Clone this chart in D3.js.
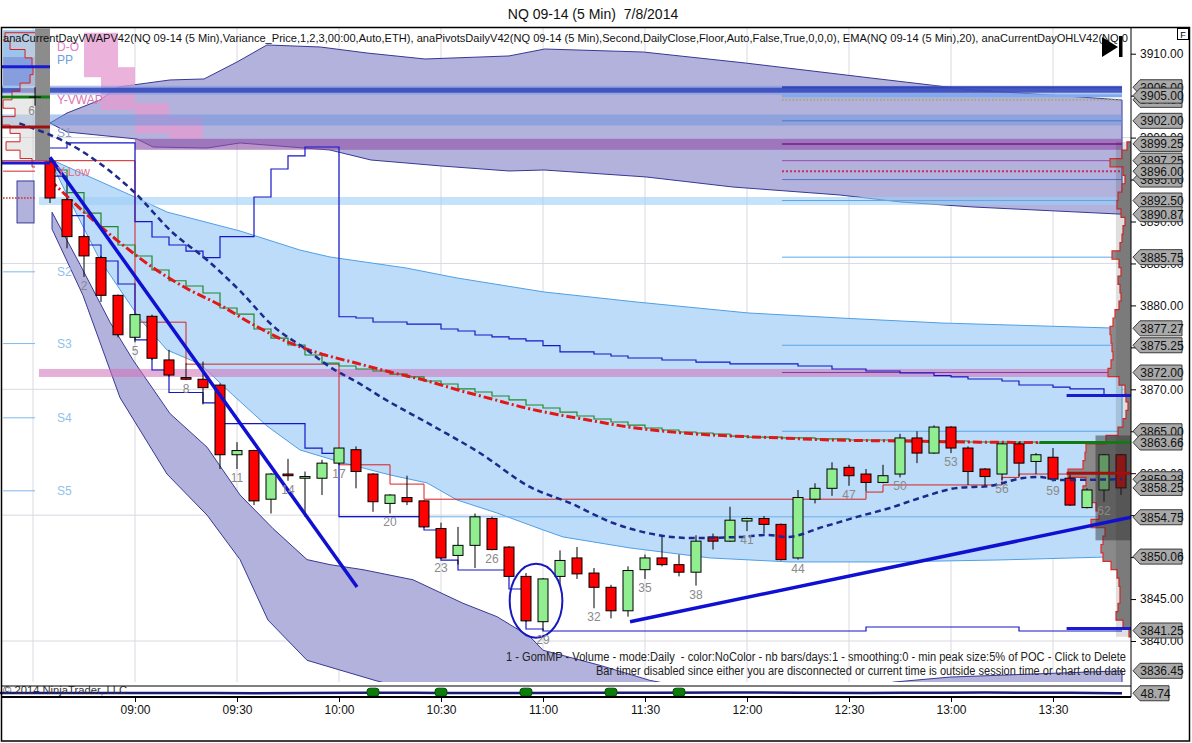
<!DOCTYPE html>
<html>
<head>
<meta charset="utf-8">
<script src="https://cdn.jsdelivr.net/npm/d3@7"></script>
<style>
  body { margin: 0; background: #fff; }
  svg { display: block; font-family: "Liberation Sans", Arial, sans-serif; }
  .pre { white-space: pre; }
</style>
</head>
<body>
<svg id="chart" width="1192" height="743"></svg>
<script>
// NQ 09-14 5 min bars, 7/8/2014 (bar 0 = 08:35)
const opens  = [3897.1,3892.6,3888.2,3885.7,3881.2,3876.2,3878.7,3873.5,3871.4,3871.2,3870.5,3862.2,3862.7,3856.9,3859.9,3859.4,3859.4,3861.2,3862.8,3859.9,3856.4,3857.1,3856.7,3853.4,3850.2,3851.4,3854.6,3851.2,3847.7,3842.3,3847.7,3849.9,3848.1,3846.4,3843.6,3848.5,3849.9,3849.1,3848.2,3852.4,3851.9,3854.3,3854.6,3853.9,3849.9,3856.9,3858.2,3860.7,3859.9,3858.9,3859.9,3864.2,3862.4,3865.5,3863.0,3860.5,3859.9,3863.5,3861.4,3861.9,3859.4,3855.9,3858.0,3862.2];
const highs  = [3897.5,3892.8,3888.4,3885.9,3881.3,3879.0,3878.9,3874.7,3873.1,3873.3,3870.7,3863.7,3862.8,3860.0,3861.7,3860.2,3861.6,3863.0,3863.2,3860.0,3857.5,3859.7,3856.8,3854.1,3853.6,3855.2,3854.8,3851.3,3848.1,3847.5,3850.8,3851.2,3848.7,3846.7,3848.9,3850.3,3852.6,3850.3,3852.6,3852.8,3856.0,3854.7,3854.9,3854.0,3858.0,3858.8,3861.3,3861.0,3860.5,3861.0,3864.7,3865.0,3865.7,3865.6,3863.2,3860.6,3863.6,3863.7,3862.4,3863.0,3860.0,3858.2,3862.3,3862.3];
const lows   = [3892.2,3886.8,3883.4,3880.4,3876.2,3875.6,3873.5,3871.5,3871.1,3868.2,3860.5,3860.5,3856.2,3855.2,3859.1,3854.8,3857.4,3861.0,3858.2,3855.4,3855.2,3856.2,3853.5,3849.8,3849.1,3848.7,3850.8,3847.6,3842.3,3841.25,3846.5,3847.4,3843.9,3842.7,3842.9,3847.4,3848.9,3847.7,3846.6,3850.9,3851.8,3853.1,3852.8,3849.6,3849.7,3856.4,3857.3,3858.5,3857.8,3858.8,3859.5,3861.2,3862.3,3862.4,3858.6,3858.5,3859.2,3859.6,3859.9,3859.0,3856.1,3855.8,3856.6,3857.4];
const closes = [3892.8,3888.2,3885.9,3881.2,3876.5,3878.9,3873.7,3871.7,3871.2,3870.2,3862.2,3862.7,3856.7,3859.9,3859.7,3859.6,3861.2,3863.0,3860.2,3856.6,3857.4,3856.6,3853.6,3849.9,3851.4,3854.8,3850.9,3847.7,3842.4,3847.4,3849.6,3848.0,3846.4,3843.6,3848.4,3849.9,3849.1,3848.2,3851.9,3851.9,3854.4,3854.6,3853.9,3849.7,3857.1,3858.2,3860.5,3859.7,3858.9,3859.7,3864.2,3862.4,3865.5,3863.0,3860.2,3859.6,3863.5,3861.2,3862.2,3859.3,3856.2,3858.0,3862.2,3858.25];

const timeLabels = ["09:00","09:30","10:00","10:30","11:00","11:30","12:00","12:30","13:00","13:30"];
const timeTickBars = [5,11,17,23,29,35,41,47,53,59];
const gridBars = [-1,5,11,17,23,29,35,41,47,53,59];
const priceTicks = [3840,3845,3850,3855,3860,3865,3870,3875,3880,3885,3890,3895,3900,3905,3910];
const priceGrid = [3840,3855,3870,3885,3900];

// VWAP deviation bands [bar, price]
const upperBandTop = [[0,3901.74],[1,3902.93],[2.94,3904.48],[4,3906.03],[7.06,3906.87],[9.06,3906.99],[11,3909.01],[12.76,3911.04],[15.9,3910.8],[18.65,3910.08],[22.06,3909.37],[27,3909.73],[29.1,3910.56],[34.9,3910.2],[40.9,3908.89],[48.3,3907.1],[54.3,3905.67],[60.6,3904.84],[63.06,3904.48]];
const upperBandBot = [[0,3901.74],[1,3900.67],[5.12,3899.83],[6.06,3898.88],[9.24,3898.76],[11.18,3899.36],[16.47,3898.52],[18.88,3897.33],[23.06,3896.61],[27,3896.02],[29.06,3896.14],[35.06,3895.31],[40.18,3894.11],[46.47,3893.16],[50.06,3892.32],[54.3,3891.73],[63.06,3890.87]];
const blueBandTop = [[0.12,3897.33],[5.12,3892.8],[6.88,3891.13],[11.18,3888.87],[14.7,3886.6],[16.47,3885.77],[20.94,3884.46],[23.94,3883.27],[29.06,3881.6],[34.47,3880.41],[41.06,3879.1],[46.47,3878.5],[52.47,3877.9],[63.06,3877.27]];
const blueBandBot = [[0.12,3896.85],[1,3893.16],[2.94,3885.41],[5.29,3878.38],[6.88,3874.69],[8.82,3873.02],[10.76,3869.32],[12.76,3865.63],[14.7,3862.77],[17.06,3861.34],[20,3859.79],[22.18,3858.84],[23.94,3856.81],[26.29,3855.26],[29,3853.24],[30.18,3852.4],[34.12,3851.09],[38.82,3849.9],[43.53,3849.42],[49.41,3849.42],[55.88,3849.66],[63.06,3850.06]];
const lowerBandTop = [[0.12,3891.1],[1.76,3884.9],[3.53,3878.0],[4.88,3873.5],[7.06,3867.1],[9.24,3863.1],[11.18,3857.4],[13.12,3853.4],[15.12,3849.7],[16.47,3849.1],[18.41,3848.5],[21.35,3847.3],[24.29,3844.5],[26.29,3842.9],[28.24,3840.5],[29,3838.9],[32.35,3837.1],[35.3,3835.3],[38.24,3834.2],[41.76,3833.9],[45.6,3832.5],[49.6,3835.1],[52.94,3835.7],[63.06,3836.45]];
const lowerBandBot = [[0.12,3889.1],[1.94,3881.2],[4.12,3869.0],[6.88,3859.9],[9.24,3855.0],[11.18,3849.7],[12.82,3842.5],[15.12,3837.7],[19.12,3835.3],[23.5,3833.0],[30,3830],[63.06,3828]];

const vwap = [[-1.8,3901.7],[1.76,3898.52],[4.88,3893.64],[7.24,3888.63],[9.24,3885.41],[11.18,3881.72],[13.12,3877.55],[15.12,3874.69],[16.47,3872.66],[18.24,3870.64],[19.47,3869.09],[22.53,3865.63],[25.29,3862.41],[28.24,3858.36],[30.59,3856.45],[33.12,3854.07],[35.12,3852.88],[37.65,3852.28],[40.59,3852.4],[42.18,3852.64],[43.35,3852.4],[45.47,3853.6],[47.47,3854.79],[49.41,3855.86],[51.35,3857.17],[53.35,3858.24],[55.29,3858.48],[57.24,3859.43],[58.24,3859.55],[59.24,3859.19],[63.06,3859.28]];
const ema20 = [[0,3894.95],[2,3891.13],[4,3887.67],[6,3884.58],[8,3882.07],[10,3880.04],[12,3877.66],[14,3875.63],[16,3874.2],[18,3873.13],[20,3872.06],[22,3871.1],[24,3869.92],[26,3868.84],[28,3867.77],[30,3866.94],[32,3866.22],[34,3865.51],[36,3865.03],[38,3864.67],[40,3864.44],[43,3864.2],[46,3863.96],[50,3863.84],[54,3863.72],[58,3863.66],[63.06,3863.66]];
const devVwap = [3896.14,3893.43,3891.01,3889.38,3887.2,3885.89,3884.22,3882.94,3882.31,3881.48,3879.69,3878.97,3877.19,3876.11,3875.28,3874.09,3873.13,3872.78,3872.42,3872.18,3871.82,3871.47,3870.99,3870.63,3870.04,3869.68,3869.2,3868.73,3868.13,3867.77,3867.29,3866.82,3866.46,3866.1,3865.74,3865.39,3865.15,3864.91,3864.79,3864.67,3864.43,3864.31,3864.31,3864.2,3864.2,3864.08,3864.08,3863.96,3863.96,3863.96,3863.96,3863.84,3863.84,3863.84,3863.72,3863.72,3863.72,3863.72,3863.6,3863.6,3863.6,3863.6,3863.6,3863.6];

// developing POC / value area [bar where value starts, price]
const pocSteps = [[-3,3897.25],[5,3878.0],[8,3873.0],[17,3861.0],[20,3858.7],[22,3856.9],[48,3857.75],[49,3858.6],[56,3859.5],[57,3859.9],[63.6,3859.9]];
const vahSteps = [[0,3898.76],[1,3899.36],[5,3889.98],[6,3888.15],[7,3887.2],[8,3886.48],[9,3885.69],[10,3888.19],[12,3892.92],[13,3896.26],[14,3897.81],[15,3898.88],[17,3878.65],[18,3878.5],[19,3878.02],[21,3877.78],[23,3877.19],[24,3876.95],[25,3876.47],[26,3876.24],[27,3876.0],[28,3875.76],[29,3875.2],[30,3874.45],[32,3874.21],[33,3873.97],[34,3873.73],[36,3873.49],[38,3873.25],[40,3873.02],[44,3872.78],[46,3872.42],[48,3872.18],[50,3871.94],[52,3871.62],[53,3871.47],[54,3871.23],[56,3870.99],[57,3870.51],[59,3870.27],[60,3870.04],[62,3869.32],[63.06,3869.32]];
const valSteps = [[0,3895.42],[1,3890.71],[2,3887.2],[3,3885.29],[4,3882.55],[5,3875.88],[6,3872.3],[7,3869.62],[9,3868.39],[10,3865.92],[15,3863.0],[16,3862.36],[17,3854.83],[22,3853.23],[23,3849.65],[24,3848.46],[27,3846.2],[28,3841.43],[29,3841.19],[48,3841.67],[57,3841.19],[63.06,3841.19]];

const trendLines = [[[0,3897.67],[18.06,3846.44]], [[34.12,3842.3],[63.6,3854.75]]];

// pivots
const pivotBandPrices = [3905.65, 3902.1, 3899.2, 3892.45, 3871.95];
const sessionLinePrices = [3906.0, 3905.0, 3904.5, 3902.0, 3899.25, 3897.25, 3896.0, 3895.0, 3892.5, 3885.75, 3875.25, 3872.0, 3865.0];
const pivotNames = ["D-O","PP","Y-VWAP","S1","Y-Low","S2","S3","S4","S5"];
const pivotNamePrices = [3910.8, 3909.25, 3904.6, 3900.55, 3895.9, 3884.0, 3875.5, 3866.6, 3857.9];
const leftLinePrices = [3884.0, 3875.45, 3866.6, 3857.9];
const prevDayLevels = [3908.45, 3904.83, 3901.26, 3896.97];
const lastLevels = [3869.25, 3841.5, 3860.0, 3863.66];

// prior-day value area columns [fromBar, toBar, high, low]
const pinkCols = [[2,3,3912.5,3907.2],[3,4,3912.5,3903.3],[4,5,3908.4,3903.3],[5,7,3904.1,3900.5],[7,9,3902.5,3899.9]];

// volume profile [price, volume]
const profile = [[3899,400],[3898,900],[3897,2100],[3896,800],[3895,600],[3894,900],[3893,1300],[3892,1400],[3891,1000],[3890,600],[3889,800],[3888,900],[3887,1100],[3886,1900],[3885,1200],[3884,1000],[3883,1300],[3882,1100],[3881,1000],[3880,1200],[3879,1600],[3878,1800],[3877,2100],[3876,2000],[3875,1900],[3874,1800],[3873,2000],[3872,2300],[3871,1200],[3870,600],[3869,500],[3868,300],[3867,500],[3866,800],[3865,1300],[3864,2500],[3863,4500],[3862,4600],[3861,4800],[3860,6300],[3859,4500],[3858,4800],[3857,4400],[3856,3500],[3855,3200],[3854,4000],[3853,2600],[3852,2800],[3851,3000],[3850,2800],[3849,2000],[3848,1400],[3847,1200],[3846,1100],[3845,1100],[3844,1300],[3843,1500],[3842,800],[3841,200]];
const prevProfile = [[3912,3000],[3911,2500],[3910,1000],[3909,300],[3908,200],[3907,500],[3906,1500],[3905,2300],[3904,3200],[3903,2000],[3902,3300],[3901,2500],[3900,1500],[3899,2900],[3898,1500],[3897,300]];

const flagPrices = [3906.00,3904.50,3905.00,3902.00,3899.25,3897.25,3895.00,3896.00,3892.50,3890.87,3885.75,3877.27,3875.25,3872.00,3865.00,3863.66,3859.28,3858.25,3854.75,3850.06,3841.25,3836.45];

// lower indicator panel
const indicator = [[-3,48.9],[5,49.1],[12,48.8],[18,49.3],[25,49.0],[32,49.2],[40,49.5],[48,49.1],[55,49.4],[60,49.2],[63.06,48.74]];
const signalBars = [19,23,28,33,37];

const headerText = "anaCurrentDayVWAPV42(NQ 09-14 (5 Min),Variance_Price,1,2,3,00:00,Auto,ETH), anaPivotsDailyV42(NQ 09-14 (5 Min),Second,DailyClose,Floor,Auto,False,True,0,0,0), EMA(NQ 09-14 (5 Min),20), anaCurrentDayOHLV42(NQ 0";
const gomText = "1 - GomMP - Volume - mode:Daily  - color:NoColor - nb bars/days:1 - smoothing:0 - min peak size:5% of POC - Click to Delete";
const timerText = "Bar timer disabled since either you are disconnected or current time is outside session time or chart end date";

const axisX = 1131, panelTop = 27, panelBottom = 686, indBottom = 697;

const x = d3.scaleLinear().domain([0, 63]).range([50, 1121]);
const y = d3.scaleLinear().domain([3840, 3910]).range([641, 53.7]);
const yInd = d3.scaleLinear().domain([45, 55]).range([697, 687]);
const vol = d3.scaleLinear().domain([0, d3.max(profile, d => d[1])]).range([0, 63]);

const svg = d3.select("#chart");
svg.append("rect").attr("width", 1192).attr("height", 743).attr("fill", "#fff");

svg.append("defs").append("clipPath").attr("id", "pane")
  .append("rect").attr("x", 2).attr("y", panelTop).attr("width", axisX - 2).attr("height", 682 - panelTop);

const plot = svg.append("g").attr("clip-path", "url(#pane)");

// grid
plot.selectAll(".vg").data(gridBars).join("line")
  .attr("x1", d => x(d)).attr("x2", d => x(d)).attr("y1", panelTop).attr("y2", panelBottom)
  .attr("stroke", "#d9d9e2").attr("stroke-width", 1);
plot.selectAll(".hg").data(priceGrid).join("line")
  .attr("x1", 2).attr("x2", axisX).attr("y1", d => y(d)).attr("y2", d => y(d))
  .attr("stroke", "#d9d9e2").attr("stroke-width", 1);

const pline = d3.line().x(d => x(d[0])).y(d => y(d[1]));
function bandPath(top, bot) {
  return pline(top) + pline(bot.slice().reverse()).replace("M", "L") + "Z";
}

plot.append("path").attr("d", bandPath(blueBandTop, blueBandBot))
  .attr("fill", "#bcdcf9").attr("stroke", "#4f9fe6").attr("stroke-width", 1);
plot.append("path").attr("d", bandPath(upperBandTop, upperBandBot))
  .attr("fill", "#b2b2dc").attr("stroke", "#383896").attr("stroke-width", 1);
plot.append("path").attr("d", bandPath(lowerBandTop, lowerBandBot))
  .attr("fill", "#b2b2dc").attr("stroke", "#383896").attr("stroke-width", 1);

// prior day value area
plot.selectAll(".pink").data(pinkCols).join("rect")
  .attr("x", d => x(d[0])).attr("width", d => x(d[1]) - x(d[0]))
  .attr("y", d => y(d[2])).attr("height", d => y(d[3]) - y(d[2]))
  .attr("fill", "#e49ad0").attr("opacity", 0.75);

// pivot bands
const bandStyle = [
  { c: "#7f9be2", o: 0.6, h: 9, from: -3 },
  { c: "#6a94e0", o: 0.5, h: 11, from: -3 },
  { c: "#9050a8", o: 0.62, h: 11, from: 5 },
  { c: "#9ccff5", o: 0.6, h: 8, from: -0.65 },
  { c: "#d070b8", o: 0.55, h: 8, from: -0.65 }
];
pivotBandPrices.forEach((p, i) => {
  const s = bandStyle[i];
  plot.append("rect").attr("x", x(s.from)).attr("width", x(63.06) - x(s.from))
    .attr("y", y(p) - s.h / 2).attr("height", s.h).attr("fill", s.c).attr("opacity", s.o);
});
plot.append("rect").attr("x", x(-3)).attr("width", x(63.06) - x(-3))
  .attr("y", y(pivotBandPrices[0]) - 2.5).attr("height", 5).attr("fill", "#3346b8").attr("opacity", 0.85);

// current-session lines (start 12:10)
const lineStyle = [
  { c: "#3346b8", w: 2, d: null }, { c: "#7eaaf0", w: 3, d: null }, { c: "#a8a86a", w: 2, d: "1.5,2" },
  { c: "#4a78cc", w: 1, d: null }, { c: "#7a1a8a", w: 1.5, d: null }, { c: "#9a4aaa", w: 1, d: null },
  { c: "#c03060", w: 2, d: "2,2" }, { c: "#4a78cc", w: 1, d: null }, { c: "#5aa8ea", w: 1, d: null },
  { c: "#5aa8ea", w: 1, d: null }, { c: "#5aa8ea", w: 1, d: null }, { c: "#8a3a9a", w: 1, d: null },
  { c: "#5aa8ea", w: 1, d: null }
];
sessionLinePrices.forEach((p, i) => {
  const s = lineStyle[i];
  plot.append("line").attr("x1", x(43.06)).attr("x2", x(63.06)).attr("y1", y(p)).attr("y2", y(p))
    .attr("stroke", s.c).attr("stroke-width", s.w).attr("stroke-dasharray", s.d);
});
plot.append("line").attr("x1", x(17)).attr("x2", x(63.06)).attr("y1", y(3854.8)).attr("y2", y(3854.8))
  .attr("stroke", "#6ab0ea").attr("stroke-width", 1);

// left edge: prior day stuff
plot.append("rect").attr("x", x(-2.76)).attr("width", x(-0.88) - x(-2.76))
  .attr("y", y(3912.8)).attr("height", y(3905.9) - y(3912.8)).attr("fill", "#9cc3ee");
plot.append("rect").attr("x", x(-2.76)).attr("width", x(-0.88) - x(-2.76))
  .attr("y", y(3909.6)).attr("height", y(3906.2) - y(3909.6)).attr("fill", "#7d8fd6").attr("opacity", 0.7);
plot.append("rect").attr("x", x(-0.88)).attr("width", x(0) - x(-0.88))
  .attr("y", y(3913)).attr("height", y(3897.3) - y(3913)).attr("fill", "#8c8c8c");
{
  const x0 = x(-0.88);
  const pts = [[x0, y(prevProfile[0][0] + 0.5)]];
  prevProfile.forEach(([p, v]) => { pts.push([x0 - vol(v), y(p + 0.5)]); pts.push([x0 - vol(v), y(p - 0.5)]); });
  pts.push([x0, y(prevProfile[prevProfile.length - 1][0] - 0.5)]);
  plot.append("path").attr("d", d3.line()(pts)).attr("fill", "#d4d4d4").attr("fill-opacity", 0.5)
    .attr("stroke", "#d42020").attr("stroke-width", 1);
}
plot.append("rect").attr("x", x(-1.94)).attr("width", x(-0.94) - x(-1.94))
  .attr("y", y(3894.83)).attr("height", y(3889.83) - y(3894.83))
  .attr("fill", "#b2b2dc").attr("stroke", "#383896");
plot.selectAll(".ll").data(leftLinePrices).join("line")
  .attr("x1", x(-2.76)).attr("x2", x(-0.88)).attr("y1", d => y(d)).attr("y2", d => y(d))
  .attr("stroke", "#7fb8ea").attr("stroke-width", 1);
plot.append("line").attr("x1", x(-2.76)).attr("x2", x(-0.88)).attr("y1", y(3896.0)).attr("y2", y(3896.0))
  .attr("stroke", "#d02a2a").attr("stroke-width", 1);
plot.append("line").attr("x1", x(-2.76)).attr("x2", x(-0.88)).attr("y1", y(3892.8)).attr("y2", y(3892.8))
  .attr("stroke", "#d02a2a").attr("stroke-width", 1.5).attr("stroke-dasharray", "1.5,1.5");

// developing POC / value area / vwap steps
const stepLine = d3.line().curve(d3.curveStepAfter).x(d => x(d[0])).y(d => y(d[1]));
plot.append("path").attr("d", stepLine(pocSteps)).attr("fill", "none").attr("stroke", "#d82020").attr("stroke-width", 1);
plot.append("path").attr("d", stepLine(vahSteps)).attr("fill", "none").attr("stroke", "#1616c8").attr("stroke-width", 1.2);
plot.append("path").attr("d", stepLine(valSteps)).attr("fill", "none").attr("stroke", "#1616c8").attr("stroke-width", 1.2);
plot.append("path").attr("d", stepLine(devVwap.map((v, i) => [i, v]).concat([[63.06, devVwap[63]]])))
  .attr("fill", "none").attr("stroke", "#1f8a2a").attr("stroke-width", 1.2);

const smooth = d3.line().curve(d3.curveMonotoneX).x(d => x(d[0])).y(d => y(d[1]));
plot.append("path").attr("d", smooth(ema20)).attr("fill", "none")
  .attr("stroke", "#e01818").attr("stroke-width", 3).attr("stroke-dasharray", "9,3,2,3");

// right volume profile
{
  const pts = [[axisX, y(profile[0][0] + 0.5)]];
  profile.forEach(([p, v]) => { pts.push([axisX - vol(v), y(p + 0.5)]); pts.push([axisX - vol(v), y(p - 0.5)]); });
  pts.push([axisX, y(profile[profile.length - 1][0] - 0.5)]);
  plot.append("path").attr("d", d3.line()(pts)).attr("fill", "#8a8a8a")
    .attr("stroke", "#e02a2a").attr("stroke-width", 1.2);
}

// candles
const idx = d3.range(opens.length);
const candles = plot.append("g");
candles.selectAll(".wick").data(idx).join("line")
  .attr("x1", i => x(i)).attr("x2", i => x(i))
  .attr("y1", i => y(highs[i])).attr("y2", i => y(lows[i]))
  .attr("stroke", "#000").attr("stroke-width", 1);
candles.selectAll(".body").data(idx).join("rect")
  .attr("x", i => x(i) - 5).attr("width", 10)
  .attr("y", i => y(Math.max(opens[i], closes[i])))
  .attr("height", i => Math.max(1.5, Math.abs(y(opens[i]) - y(closes[i]))))
  .attr("fill", i => closes[i] >= opens[i] ? "#90ee90" : "#ff0000")
  .attr("stroke", "#000").attr("stroke-width", 1);

// shading over the last bars
plot.append("rect").attr("x", x(61.5)).attr("width", axisX - x(61.5))
  .attr("y", y(3864.5)).attr("height", y(3852) - y(3864.5)).attr("fill", "#2a2a2a").attr("opacity", 0.45);
plot.append("rect").attr("x", x(62.7)).attr("width", axisX - x(62.7))
  .attr("y", y(3899.5)).attr("height", y(3840.5) - y(3899.5)).attr("fill", "#2a2a2a").attr("opacity", 0.15);

plot.append("path").attr("d", smooth(vwap)).attr("fill", "none")
  .attr("stroke", "#1c2a8c").attr("stroke-width", 2.5).attr("stroke-dasharray", "6,4");

// trend lines and markers
plot.selectAll(".trend").data(trendLines).join("path")
  .attr("d", d => pline(d)).attr("stroke", "#1010d2").attr("stroke-width", 3.5).attr("fill", "none");

const prevColors = ["#1a1ad0", "#127a12", "#a01010", "#1a1ad0"];
prevDayLevels.forEach((p, i) => {
  plot.append("line").attr("x1", x(-3)).attr("x2", x(0)).attr("y1", y(p)).attr("y2", y(p))
    .attr("stroke", prevColors[i]).attr("stroke-width", 3);
});
const lastColors = ["#1a1ad0", "#1a1ad0", "#a01010", "#127a12"];
const lastFrom = [59.8, 59.8, 59.8, 58.2];
lastLevels.forEach((p, i) => {
  plot.append("line").attr("x1", x(lastFrom[i])).attr("x2", axisX).attr("y1", y(p)).attr("y2", y(p))
    .attr("stroke", lastColors[i]).attr("stroke-width", 3);
});

// prior bar mark
plot.append("line").attr("x1", x(-0.88)).attr("x2", x(-0.88)).attr("y1", y(3906)).attr("y2", y(3903.8)).attr("stroke", "#000");
plot.append("line").attr("x1", x(-0.88) - 6).attr("x2", x(-0.88) + 6).attr("y1", y(3904.83)).attr("y2", y(3904.83)).attr("stroke", "#000");

// ellipse around bars 28-29
plot.append("ellipse").attr("cx", x(28.59)).attr("cy", y(3844.8))
  .attr("rx", x(28.59 + 1.55) - x(28.59)).attr("ry", y(3844.8 - 4.4) - y(3844.8))
  .attr("fill", "none").attr("stroke", "#1818c0").attr("stroke-width", 2);

// bar numbers
plot.selectAll(".num").data(idx.filter(i => i % 3 === 2)).join("text")
  .attr("x", i => x(i)).attr("y", i => y(lows[i]) + 13)
  .attr("text-anchor", "middle").attr("font-size", 12).attr("fill", "#8a8a8a").text(i => i);
plot.append("text").attr("x", x(-0.88)).attr("y", y(3903.2) + 4).attr("text-anchor", "middle")
  .attr("font-size", 12).attr("fill", "#8a8a8a").text("60");

// pivot names
const nameColors = ["#e080c0", "#6f9ee0", "#e070b0", "#8a9ccc", "#e0708c", "#8fc2ea", "#8fc2ea", "#8fc2ea", "#8fc2ea"];
pivotNames.forEach((n, i) => {
  plot.append("text").attr("x", x(0.41)).attr("y", y(pivotNamePrices[i]) + 4.5)
    .attr("font-size", 12).attr("fill", nameColors[i]).text(n);
});

// texts in price panel
svg.append("text").attr("x", 3).attr("y", 42).attr("font-size", 11).attr("fill", "#111")
  .attr("textLength", 1125).attr("lengthAdjust", "spacingAndGlyphs").text(headerText);
svg.append("text").attr("class", "pre").attr("x", 506).attr("y", 661).attr("font-size", 12).attr("fill", "#222")
  .attr("textLength", 620).attr("lengthAdjust", "spacingAndGlyphs").text(gomText);
svg.append("text").attr("x", 596).attr("y", 675).attr("font-size", 12).attr("fill", "#222")
  .attr("textLength", 530).attr("lengthAdjust", "spacingAndGlyphs").text(timerText);

// indicator panel
svg.append("path").attr("d", d3.line().curve(d3.curveMonotoneX).x(d => x(d[0])).y(d => yInd(d[1]))(indicator))
  .attr("fill", "none").attr("stroke", "#1a1a78").attr("stroke-width", 2.5);
svg.selectAll(".sig").data(signalBars).join("rect")
  .attr("x", d => x(d) - 6).attr("y", yInd(49.8) - 4).attr("width", 12).attr("height", 8).attr("rx", 3)
  .attr("fill", "#0b7d0b").attr("stroke", "#064d06");
svg.append("text").attr("x", 3).attr("y", 694).attr("font-size", 11).attr("fill", "#333")
  .attr("textLength", 124).attr("lengthAdjust", "spacingAndGlyphs").text("© 2014 NinjaTrader, LLC");

// frame
svg.append("line").attr("x1", 1).attr("x2", axisX).attr("y1", panelBottom).attr("y2", panelBottom).attr("stroke", "#000");
svg.append("line").attr("x1", 1).attr("x2", axisX).attr("y1", indBottom).attr("y2", indBottom).attr("stroke", "#000").attr("stroke-width", 2);
svg.append("line").attr("x1", axisX).attr("x2", axisX).attr("y1", panelTop).attr("y2", indBottom).attr("stroke", "#000");
svg.append("rect").attr("x", 1.5).attr("y", panelTop + 0.5).attr("width", 1188).attr("height", 713.5)
  .attr("fill", "none").attr("stroke", "#000").attr("stroke-width", 1.5);

// axes
const yAxis = svg.append("g").attr("transform", `translate(${axisX},0)`)
  .call(d3.axisRight(y).tickValues(priceTicks).tickSize(5).tickPadding(4).tickFormat(d3.format(".2f")));
yAxis.select(".domain").remove();
yAxis.selectAll("text").attr("font-size", 12).attr("font-family", "Liberation Sans, Arial, sans-serif").attr("fill", "#111");

const xAxis = svg.append("g").attr("transform", `translate(0,${indBottom})`)
  .call(d3.axisBottom(x).tickValues(timeTickBars).tickSize(5).tickFormat((d, i) => timeLabels[i]));
xAxis.select(".domain").remove();
xAxis.selectAll("text").attr("font-size", 12).attr("font-family", "Liberation Sans, Arial, sans-serif").attr("fill", "#111");

// price flags
function drawFlag(yy, label, w) {
  const g = svg.append("g").attr("transform", `translate(${axisX + 2},${yy})`);
  g.append("path").attr("d", `M0,0L7,-7.5H${w}V7.5H7Z`).attr("fill", "#a9a9a9").attr("stroke", "#3a3a3a");
  g.append("text").attr("x", (w + 7) / 2 + 1).attr("y", 4.5).attr("text-anchor", "middle")
    .attr("font-size", 12).attr("fill", "#111").text(label);
}
flagPrices.forEach(p => drawFlag(y(p), p.toFixed(2), 49));
drawFlag(yInd(48.74), "48.74", 36);

// title and icons
svg.append("text").attr("class", "pre").attr("x", 593).attr("y", 19).attr("text-anchor", "middle")
  .attr("font-size", 14).attr("fill", "#111").text("NQ 09-14 (5 Min)  7/8/2014");
svg.append("path").attr("d", "M1102,37L1118,47L1102,57Z").attr("fill", "#000");
svg.append("rect").attr("x", 1119).attr("y", 36).attr("width", 3.5).attr("height", 21).attr("fill", "#000");
svg.append("rect").attr("x", 1177.5).attr("y", 28.5).attr("width", 11).attr("height", 11).attr("fill", "#fff").attr("stroke", "#000");
svg.append("text").attr("x", 1183).attr("y", 37.5).attr("text-anchor", "middle").attr("font-size", 9).text("F");
</script>
</body>
</html>
